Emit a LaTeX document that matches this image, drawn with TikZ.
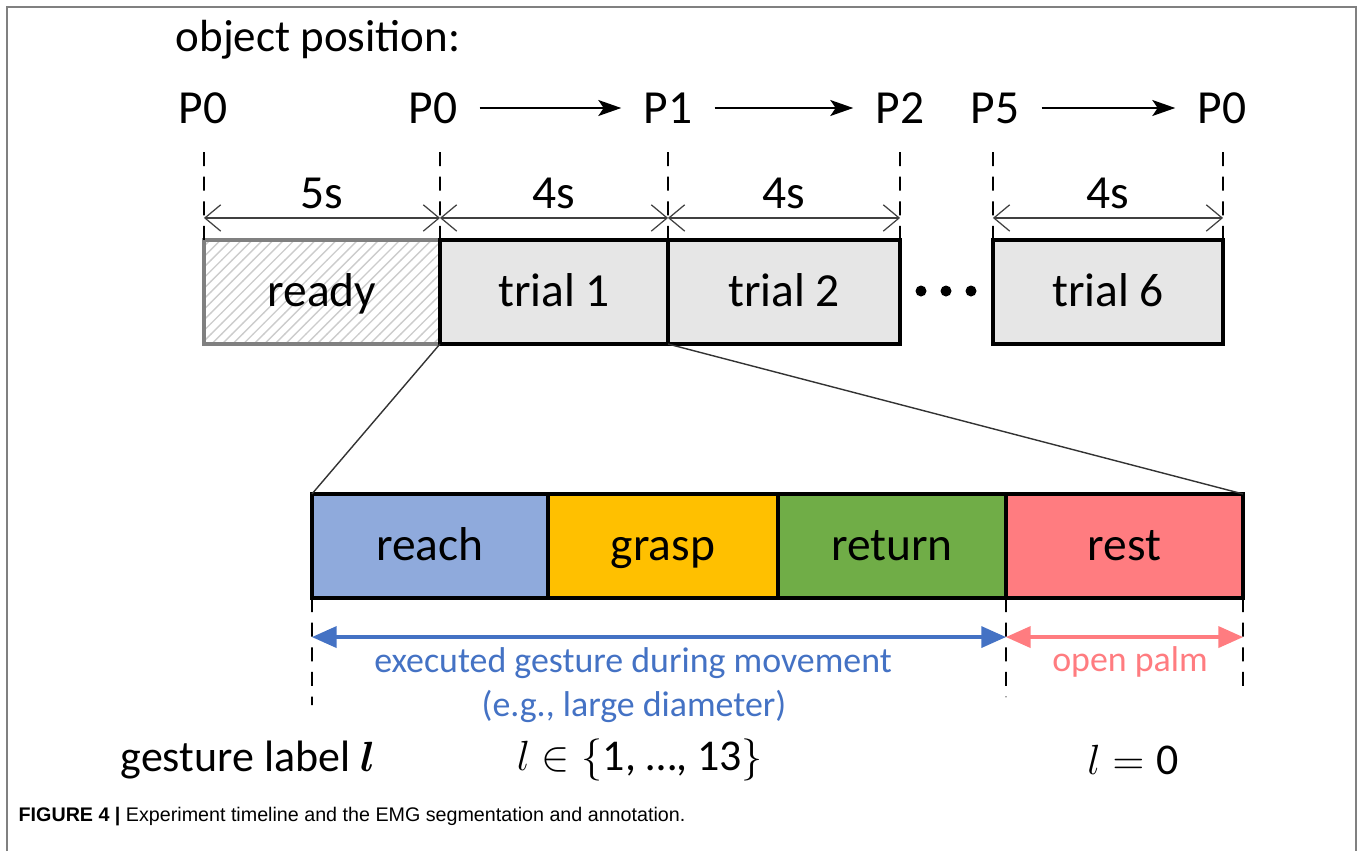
\documentclass[tikz,border=0pt]{standalone}
\usepackage{amsmath}
\usepackage{fontspec}
\setmainfont{Carlito}
\newfontfamily\capfont{Liberation Sans}
\usepackage{xcolor}
\usetikzlibrary{arrows.meta, positioning, calc, patterns}
\definecolor{boxgray}{HTML}{E6E6E6}
\definecolor{reachblue}{HTML}{8FAADC}
\definecolor{graspyellow}{HTML}{FFC000}
\definecolor{returngreen}{HTML}{70AD47}
\definecolor{restred}{HTML}{FF7C80}
\definecolor{movblue}{HTML}{4472C4}
\tikzstyle{arrow} = [line width=0.8pt,-{Stealth[length=6.5pt,width=4.5pt,inset=1.5pt]}, shorten <=0.1cm, shorten >=0.1cm]

\begin{document}
\begin{tikzpicture}[
    x=0.01cm, y=-0.01cm,
    bigfont/.style={font=\fontsize{13.5}{16}\selectfont},
    trialbox/.style={rectangle, draw, line width=0.9pt, fill=boxgray, minimum height=1.04cm, inner sep=0pt, outer sep=0pt, text height=1.75ex, text depth=0pt, bigfont},
    phasebox/.style={rectangle, draw, line width=0.9pt, minimum height=1.04cm, inner sep=0pt, outer sep=0pt, text height=1.7ex, text depth=0pt, bigfont},
    dimline/.style={draw=black!75, line width=0.35pt, {Straight Barb[length=4.5pt,width=7.5pt]}-{Straight Barb[length=4.5pt,width=7.5pt]}},
    dashline/.style={line width=0.5pt, dash pattern=on 4pt off 3pt},
    spanarrow/.style={line width=0.9pt, {Triangle[length=7pt,width=6pt]}-{Triangle[length=7pt,width=6pt]}},
    smallfont/.style={font=\fontsize{10.2}{12}\selectfont}
]
    \useasboundingbox (0,0) rectangle (1363,851);
    \draw[gray, line width=0.6pt] (7,851) -- (7,7) -- (1356,7) -- (1356,851);

    \node[font=\fontsize{12.8}{15}\selectfont, anchor=west, inner sep=0pt] (title) at (175,40) {object position:};
    \node[bigfont] (pa) at (203,108) {P0};
    \node[bigfont] (pb) at (433,108) {P0};
    \node[bigfont] (pc) at (668,108) {P1};
    \node[bigfont] (pd) at (900,108) {P2};
    \node[bigfont] (pe) at (995,108) {P5};
    \node[bigfont] (pf) at (1222,108) {P0};
    \draw[arrow] (pb) -- (pc);
    \draw[arrow] (pc) -- (pd);
    \draw[arrow] (pe) -- (pf);

    \node[trialbox, minimum width=2.36cm, fill=none, draw=gray, pattern=north east lines, pattern color=gray!40] (ready) at (322,292) {ready};
    \node[trialbox, minimum width=2.28cm] (trial1) at (554,292) {trial 1};
    \node[trialbox, minimum width=2.32cm] (trial2) at (784,292) {trial 2};
    \node[trialbox, minimum width=2.30cm] (trial6) at (1108,292) {trial 6};
    \draw[gray, line width=0.9pt] (ready.north west) rectangle (ready.south east);
    \draw[line width=0.9pt] (trial1.north west) rectangle (trial1.south east);
    \foreach \x in {921,946,971} \fill (\x,291) circle (5.5);

    \coordinate (ta) at (204,152);
    \coordinate (tb) at (440,152);
    \coordinate (tc) at (668,152);
    \coordinate (td) at (900,152);
    \coordinate (te) at (993,152);
    \coordinate (tf) at (1223,152);
    \draw[dashline] (ready.north west) -- (ta);
    \draw[dashline] (ready.north east) -- (tb);
    \draw[dashline] (trial2.north west) -- (tc);
    \draw[dashline] (trial2.north east) -- (td);
    \draw[dashline] (trial6.north west) -- (te);
    \draw[dashline] (trial6.north east) -- (tf);

    \draw[dimline] ([yshift=0.22cm]ready.north west) -- node[above, bigfont, inner sep=2.5pt] {5s} ([yshift=0.22cm]ready.north east);
    \draw[dimline] ([yshift=0.22cm]trial1.north west) -- node[above, bigfont, inner sep=2.5pt] {4s} ([yshift=0.22cm]trial1.north east);
    \draw[dimline] ([yshift=0.22cm]trial2.north west) -- node[above, bigfont, inner sep=2.5pt] {4s} ([yshift=0.22cm]trial2.north east);
    \draw[dimline] ([yshift=0.22cm]trial6.north west) -- node[above, bigfont, inner sep=2.5pt] {4s} ([yshift=0.22cm]trial6.north east);

    \node[phasebox, minimum width=2.36cm, fill=reachblue] (reach) at (430,546) {reach};
    \node[phasebox, minimum width=2.30cm, fill=graspyellow] (grasp) at (663,546) {grasp};
    \node[phasebox, minimum width=2.28cm, fill=returngreen] (return) at (892,546) {return};
    \node[phasebox, minimum width=2.37cm, fill=restred] (rest) at (1124.5,546) {rest};

    \draw[black!80, line width=0.4pt] (trial1.south west) -- (reach.north west);
    \draw[black!80, line width=0.4pt] (trial1.south east) -- (rest.north east);

    \coordinate (ga) at (312,705);
    \coordinate (gb) at (1006,697);
    \coordinate (gc) at (1243,695);
    \draw[dashline] (reach.south west) -- (ga);
    \draw[dashline] (rest.south west) -- (gb);
    \draw[dashline] (rest.south east) -- (gc);

    \draw[spanarrow, movblue] ([yshift=-0.39cm]reach.south west) -- ([yshift=-0.39cm]rest.south west);
    \draw[spanarrow, restred] ([yshift=-0.39cm]rest.south west) -- ([yshift=-0.39cm]rest.south east);

    \node[movblue, smallfont] (exec) at (633,663) {executed gesture during movement};
    \node[movblue, smallfont] (eg) at (634,706) {(e.g., large diameter)};
    \node[restred, smallfont] (palm) at (1130,662) {open palm};

    \node[font=\fontsize{12.5}{15}\selectfont, anchor=west, inner sep=0pt] (glabel) at (120,760) {gesture label $\boldsymbol{l}$};
    \node[font=\fontsize{12.5}{15}\selectfont] (lrange) at (640,760) {$l \in \{\text{1, \dots, 13}\}$};
    \node[font=\fontsize{12.5}{15}\selectfont] (lzero) at (1133,760) {$l = \text{0}$};

    \node[font=\capfont\fontsize{5.6}{7}\selectfont, anchor=west, inner sep=0pt] (caption) at (18,817) {\textbf{FIGURE 4 |} Experiment timeline and the EMG segmentation and annotation.};
\end{tikzpicture}
\end{document}
